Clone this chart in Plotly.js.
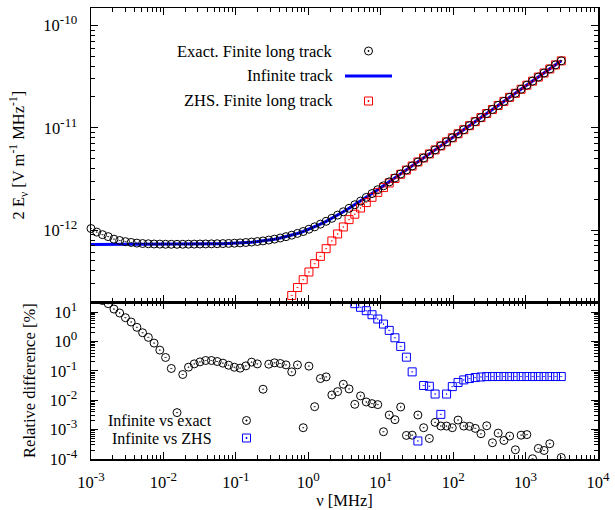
<!DOCTYPE html>
<html>
<head>
<meta charset="utf-8">
<script src="https://cdn.plot.ly/plotly-3.0.1.min.js"></script>
<style>html,body{margin:0;padding:0;background:#fff;}#chart{width:615px;height:510px;}</style>
</head>
<body>
<div id="chart"></div>
<script>
// Frequency grid [MHz]
const freq = [0.001, 0.0012, 0.00144, 0.001728, 0.0020736, 0.0024883, 0.002986, 0.0035832, 0.0042998, 0.0051598,
  0.0061917, 0.0074301, 0.0089161, 0.010699, 0.012839, 0.015407, 0.018488, 0.022186, 0.026623, 0.031948,
  0.038338, 0.046005, 0.055206, 0.066247, 0.079497, 0.095396, 0.11448, 0.13737, 0.16484, 0.19781,
  0.23738, 0.28485, 0.34182, 0.41019, 0.49222, 0.59067, 0.7088, 0.85056, 1.0207, 1.2248,
  1.4698, 1.7637, 2.1165, 2.5398, 3.0477, 3.6573, 4.3887, 5.2665, 6.3197, 7.5837,
  9.1004, 10.921, 13.105, 15.726, 18.871, 22.645, 27.174, 32.609, 39.130, 46.956,
  56.348, 67.617, 81.140, 97.369, 116.84, 140.21, 168.25, 201.90, 242.28, 290.74,
  348.89, 418.67, 502.40, 602.88, 723.46, 868.15, 1041.8, 1250.1, 1500.2, 1800.2,
  2160.2, 2592.3, 3110.7];

// Exact. Finite long track [V m^-1 MHz^-1]
const exactTrack = [1.037e-12, 9.57e-13, 9.03e-13, 8.64e-13, 8.16e-13, 7.92e-13, 7.72e-13, 7.58e-13, 7.47e-13, 7.40e-13,
  7.36e-13, 7.32e-13, 7.30e-13, 7.28e-13, 7.275e-13, 7.271e-13, 7.281e-13, 7.292e-13, 7.304e-13, 7.316e-13,
  7.330e-13, 7.346e-13, 7.366e-13, 7.389e-13, 7.419e-13, 7.456e-13, 7.507e-13, 7.569e-13, 7.649e-13, 7.740e-13,
  7.845e-13, 7.997e-13, 8.171e-13, 8.380e-13, 8.631e-13, 8.926e-13, 9.291e-13, 9.698e-13, 1.021e-12, 1.077e-12,
  1.144e-12, 1.220e-12, 1.305e-12, 1.402e-12, 1.512e-12, 1.634e-12, 1.770e-12, 1.922e-12, 2.090e-12, 2.277e-12,
  2.482e-12, 2.711e-12, 2.960e-12, 3.235e-12, 3.537e-12, 3.869e-12, 4.233e-12, 4.632e-12, 5.070e-12, 5.550e-12,
  6.077e-12, 6.654e-12, 7.287e-12, 7.981e-12, 8.741e-12, 9.573e-12, 1.049e-11, 1.149e-11, 1.258e-11, 1.378e-11,
  1.510e-11, 1.654e-11, 1.811e-11, 1.984e-11, 2.173e-11, 2.381e-11, 2.608e-11, 2.857e-11, 3.130e-11, 3.428e-11,
  3.756e-11, 4.114e-11, 4.507e-11];

// Infinite track
const infiniteTrack = [7.25e-13, 7.25e-13, 7.25e-13, 7.25e-13, 7.25e-13, 7.252e-13, 7.253e-13, 7.253e-13, 7.254e-13, 7.255e-13,
  7.257e-13, 7.258e-13, 7.260e-13, 7.263e-13, 7.266e-13, 7.271e-13, 7.276e-13, 7.282e-13, 7.291e-13, 7.301e-13,
  7.314e-13, 7.330e-13, 7.351e-13, 7.376e-13, 7.408e-13, 7.447e-13, 7.497e-13, 7.558e-13, 7.634e-13, 7.727e-13,
  7.843e-13, 7.984e-13, 8.156e-13, 8.365e-13, 8.617e-13, 8.918e-13, 9.276e-13, 9.698e-13, 1.019e-12, 1.077e-12,
  1.143e-12, 1.219e-12, 1.305e-12, 1.402e-12, 1.511e-12, 1.634e-12, 1.770e-12, 1.922e-12, 2.090e-12, 2.277e-12,
  2.482e-12, 2.711e-12, 2.960e-12, 3.235e-12, 3.537e-12, 3.869e-12, 4.233e-12, 4.632e-12, 5.070e-12, 5.550e-12,
  6.077e-12, 6.654e-12, 7.287e-12, 7.981e-12, 8.741e-12, 9.573e-12, 1.049e-11, 1.149e-11, 1.258e-11, 1.378e-11,
  1.510e-11, 1.654e-11, 1.811e-11, 1.984e-11, 2.173e-11, 2.381e-11, 2.608e-11, 2.857e-11, 3.130e-11, 3.428e-11,
  3.756e-11, 4.114e-11, 4.507e-11];

// ZHS. Finite long track (points below the frame are not shown)
const zhsTrack = [null, null, null, null, null, null, null, null, null, null,
  null, null, null, null, null, null, null, null, null, null,
  null, null, null, null, null, null, null, null, null, null,
  null, null, null, null, null, 2.30e-13, 2.75e-13, 3.28e-13, 3.90e-13, 4.70e-13,
  5.54e-13, 6.59e-13, 7.84e-13, 9.18e-13, 1.074e-12, 1.267e-12, 1.430e-12, 1.644e-12, 1.859e-12, 2.092e-12,
  2.339e-12, 2.605e-12, 2.890e-12, 3.192e-12, 3.513e-12, 3.857e-12, 4.229e-12, 4.632e-12, 5.068e-12, 5.549e-12,
  6.076e-12, 6.654e-12, 7.286e-12, 7.978e-12, 8.737e-12, 9.569e-12, 1.048e-11, 1.148e-11, 1.257e-11, 1.377e-11,
  1.509e-11, 1.653e-11, 1.810e-11, 1.983e-11, 2.172e-11, 2.379e-11, 2.606e-11, 2.855e-11, 3.128e-11, 3.426e-11,
  3.753e-11, 4.111e-11, 4.504e-11];

// Relative difference [%]: Infinite vs exact
const diffExact = [43, 32, 24.5, 19.2, 12.6, 9.25, 6.40, 4.56, 3.01, 1.97,
  1.37, 0.875, 0.505, 0.284, 0.120, 0.00378, 0.0748, 0.133, 0.172, 0.201,
  0.224, 0.224, 0.207, 0.182, 0.155, 0.132, 0.123, 0.147, 0.197, 0.172,
  0.0236, 0.168, 0.187, 0.177, 0.159, 0.092, 0.159, 0.00116, 0.144, 0.00603,
  0.0545, 0.0621, 0.0151, 0.0196, 0.0349, 0.0242, 0.00724, 0.0140, 0.00871, 0.00764,
  0.00708, 0.000847, 0.00313, 0.00217, 0.00587, 0.000634, 0.000646, 0.00313, 0.00116, 0.000501,
  0.00176, 0.00132, 0.00132, 0.00116, 0.00211, 0.00132, 0.00129, 0.00110, 0.000724, 0.00135,
  0.000357, 0.000759, 0.000427, 0.000603, 0.000206, 0.000646, 0.000676, 0.000102, 0.000229, 0.000195,
  0.000331, null, 0.000112];

// Relative difference [%]: Infinite vs ZHS
const diffZHS = [null, null, null, null, null, null, null, null, null, null,
  null, null, null, null, null, null, null, null, null, null,
  null, null, null, null, null, null, null, null, null, null,
  null, null, null, null, null, null, null, null, null, null,
  null, null, null, null, null, null, 19.2, 14.45, 11.07, 8.09,
  5.77, 3.89, 2.37, 1.33, 0.675, 0.291, 0.092, 0.00041, 0.0316, 0.0298,
  0.0162, 0.0033, 0.0162, 0.029, 0.040, 0.049, 0.0545, 0.0589, 0.0617, 0.0635,
  0.0638, 0.0638, 0.0638, 0.0638, 0.0638, 0.0638, 0.0638, 0.0638, 0.0638, 0.0638,
  0.0638, 0.0638, 0.0638];

// Tick labels
const xTickVals = [1e-3, 1e-2, 1e-1, 1, 10, 100, 1000, 10000];
const xTickExp = ['-3', '-2', '-1', '0', '1', '2', '3', '4'];
const yTopTickVals = [1e-12, 1e-11, 1e-10];
const yTopTickExp = ['-12', '-11', '-10'];
const yBotTickVals = [1e-4, 1e-3, 1e-2, 1e-1, 1, 10];
const yBotTickExp = ['-4', '-3', '-2', '-1', '0', '1'];

const legendTop = ['Exact. Finite long track', 'Infinite track', 'ZHS. Finite long track'];
const legendBot = ['Infinite vs exact', 'Infinite vs ZHS'];

const pow10 = e => '10<sup><span style="font-size:13px">' + e + '</span></sup>';

function minorVals(d0, d1) {
  const v = [];
  for (let d = d0; d <= d1; d++) for (let k = 2; k <= 9; k++) v.push(k * Math.pow(10, d));
  return v;
}

const FONT = '"Liberation Serif", serif';
const FS = 16.5;
const BLUE = 'rgb(0,0,255)';
const RED = 'rgb(255,0,0)';

const traces = [
  {x: freq, y: infiniteTrack, xaxis: 'x2', yaxis: 'y2', mode: 'lines', line: {color: BLUE, width: 3}, showlegend: false, name: legendTop[1]},
  {x: freq, y: zhsTrack, xaxis: 'x2', yaxis: 'y2', mode: 'markers', marker: {symbol: 'square-open-dot', size: 8, color: RED, line: {width: 1, color: RED}}, showlegend: false, name: legendTop[2]},
  {x: freq, y: exactTrack, xaxis: 'x2', yaxis: 'y2', mode: 'markers', cliponaxis: false, marker: {symbol: 'circle-open-dot', size: 8, color: 'black', line: {width: 1, color: 'black'}}, showlegend: false, name: legendTop[0]},
  {x: freq, y: diffExact, xaxis: 'x', yaxis: 'y', mode: 'markers', marker: {symbol: 'circle-open-dot', size: 8, color: 'black', line: {width: 1, color: 'black'}}, showlegend: false, name: legendBot[0]},
  {x: freq, y: diffZHS, xaxis: 'x', yaxis: 'y', mode: 'markers', marker: {symbol: 'square-open-dot', size: 8, color: BLUE, line: {width: 1, color: BLUE}}, showlegend: false, name: legendBot[1]}
];

const axisCommon = {
  type: 'log', showline: true, linecolor: 'black', linewidth: 1.5, mirror: 'allticks',
  ticks: 'inside', ticklen: 7, tickwidth: 1, tickcolor: 'black', showgrid: false, zeroline: false,
  tickfont: {family: FONT, size: FS, color: 'black'}
};

const L = 91, R = 17, T = 8, B = 51;
const W = 615, H = 510;
const pw = W - L - R, ph = H - T - B;
const px = v => (v - L) / pw;
const py = v => (H - B - v) / ph;

const annFont = {family: FONT, size: FS, color: 'black'};
const annFontB = {family: FONT, size: 16, color: 'black'};
const annotations = [
  {xref: 'paper', yref: 'paper', x: px(335), y: py(51), xanchor: 'right', yanchor: 'middle', text: legendTop[0], showarrow: false, font: annFont},
  {xref: 'paper', yref: 'paper', x: px(335), y: py(76), xanchor: 'right', yanchor: 'middle', text: legendTop[1], showarrow: false, font: annFont},
  {xref: 'paper', yref: 'paper', x: px(335), y: py(101), xanchor: 'right', yanchor: 'middle', text: legendTop[2], showarrow: false, font: annFont},
  {xref: 'paper', yref: 'paper', x: px(214), y: py(420), xanchor: 'right', yanchor: 'middle', text: legendBot[0], showarrow: false, font: annFontB},
  {xref: 'paper', yref: 'paper', x: px(214), y: py(438.5), xanchor: 'right', yanchor: 'middle', text: legendBot[1], showarrow: false, font: annFontB}
];

function symShape(type, cx, cy, r, color, fill) {
  return {type: type, xref: 'paper', yref: 'paper', xsizemode: 'pixel', ysizemode: 'pixel',
    xanchor: px(cx), yanchor: py(cy), x0: -r, x1: r, y0: -r, y1: r,
    line: {color: color, width: 1}, fillcolor: fill || 'rgba(0,0,0,0)'};
}
const shapes = [
  symShape('circle', 368.5, 51, 4, 'black'),
  symShape('circle', 368.5, 51, 0.6, 'black', 'black'),
  {type: 'line', xref: 'paper', yref: 'paper', x0: px(345), x1: px(392), y0: py(76), y1: py(76), line: {color: BLUE, width: 3}},
  symShape('rect', 368.5, 101, 4, RED),
  symShape('rect', 368.5, 101, 0.5, RED, RED),
  symShape('circle', 246.5, 420.5, 4, 'black'),
  symShape('circle', 246.5, 420.5, 0.6, 'black', 'black'),
  symShape('rect', 246.5, 438, 4, BLUE),
  symShape('rect', 246.5, 438, 0.5, BLUE, BLUE)
];

const split = (H - B - 302.3) / ph;

const layout = {
  width: W, height: H,
  margin: {l: L, r: R, t: T, b: B},
  paper_bgcolor: 'white', plot_bgcolor: 'white',
  font: {family: FONT, size: FS, color: 'black'},
  showlegend: false,
  xaxis: Object.assign({}, axisCommon, {
    anchor: 'y', domain: [0, 1], range: [-3, 4],
    tickmode: 'array', tickvals: xTickVals, ticktext: xTickExp.map(pow10), ticklabelstandoff: 8,
    minor: {tickmode: 'array', tickvals: minorVals(-3, 3), ticks: 'inside', ticklen: 4, tickcolor: 'black', showgrid: false},
    title: {text: 'ν [MHz]', font: {family: FONT, size: FS}, standoff: 3}
  }),
  xaxis2: Object.assign({}, axisCommon, {
    anchor: 'y2', domain: [0, 1], range: [-3, 4], matches: 'x', showticklabels: false,
    tickmode: 'array', tickvals: xTickVals,
    minor: {tickmode: 'array', tickvals: minorVals(-3, 3), ticks: 'inside', ticklen: 4, tickcolor: 'black', showgrid: false}
  }),
  yaxis: Object.assign({}, axisCommon, {
    anchor: 'x', domain: [0, split], range: [-4, 1.33],
    tickmode: 'array', tickvals: yBotTickVals, ticktext: yBotTickExp.map(pow10), ticklabelstandoff: 9,
    minor: {tickmode: 'array', tickvals: minorVals(-4, 1), ticks: 'inside', ticklen: 4, tickcolor: 'black', showgrid: false},
    title: {text: 'Relative difference [%]', font: {family: FONT, size: FS}, standoff: 10}
  }),
  yaxis2: Object.assign({}, axisCommon, {
    anchor: 'x2', domain: [split, 1], range: [-12.705, -9.83],
    tickmode: 'array', tickvals: yTopTickVals, ticktext: yTopTickExp.map(pow10), ticklabelstandoff: 9,
    minor: {tickmode: 'array', tickvals: minorVals(-13, -10), ticks: 'inside', ticklen: 4, tickcolor: 'black', showgrid: false},
    title: {text: '2 E<sub>ν</sub> [V m<sup>-1</sup> MHz<sup>-1</sup>]', font: {family: FONT, size: FS}, standoff: 14}
  }),
  annotations: annotations,
  shapes: shapes
};

Plotly.newPlot('chart', traces, layout, {staticPlot: true, displayModeBar: false});
</script>
</body>
</html>
